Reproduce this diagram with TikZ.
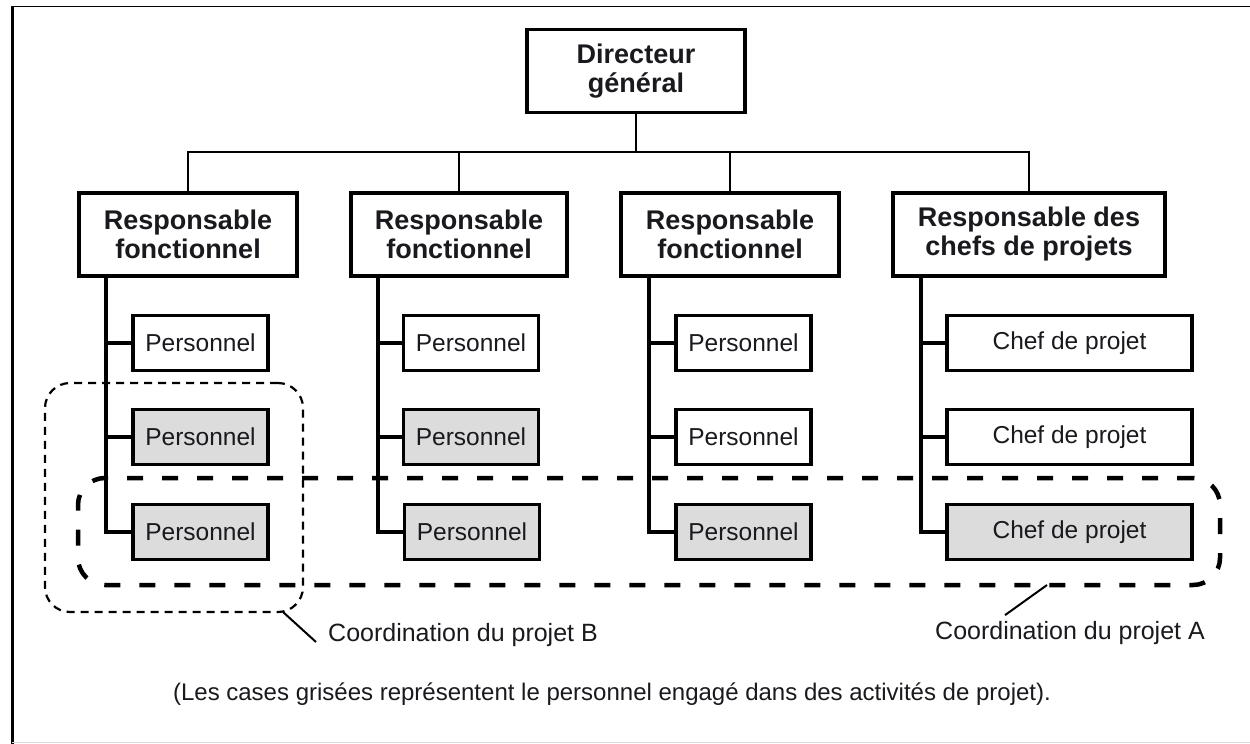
\documentclass[tikz,border=0pt]{standalone}
\usepackage{fontspec}
\setmainfont{Liberation Sans}
\definecolor{shade}{RGB}{220,220,220}
\definecolor{ink}{RGB}{25,25,30}
\begin{document}
\begin{tikzpicture}[x=1pt,y=-1pt,
  box/.style={draw=black, line width=3.5pt, fill=white, inner sep=0pt, align=center, text=ink},
  headbox/.style={box, minimum height=83pt, font=\fontsize{27}{29}\selectfont\bfseries},
  staff/.style={box, minimum width=135pt, minimum height=55pt, font=\fontsize{24.5}{28}\selectfont},
  chef/.style={staff, minimum width=245pt},
  shaded/.style={fill=shade},
  bus/.style={line width=2pt},
  trunk/.style={line width=3.5pt},
  zoneB/.style={draw, line width=2.2pt, dash pattern=on 8pt off 6pt, rounded corners=25pt, inner sep=0pt},
  zoneA/.style={draw, line width=4.5pt, dash pattern=on 16pt off 19pt, rounded corners=27pt, inner sep=0pt},
  note/.style={font=\fontsize{25}{28}\selectfont, text=ink, inner sep=0pt},
  leader/.style={line width=2pt}
]
\useasboundingbox (0,0) rectangle (1250,744);

% page frame
\draw[line width=3pt] (12,6) -- (12,744);
\draw[line width=1.5pt] (12,6.5) -- (1250,6.5);
\draw[line width=1pt, black!15] (12,742) -- (1250,742);

% top of the chart
\node[headbox, minimum width=218pt] (dg) at (636,71) {Directeur\\général};

% line managers
\node[headbox, minimum width=218pt] (r1) at (188,234.5) {Responsable\\fonctionnel};
\node[headbox, minimum width=216pt] (r2) at (459,234.5) {Responsable\\fonctionnel};
\node[headbox, minimum width=218pt] (r3) at (730,234.5) {Responsable\\fonctionnel};
\node[headbox, minimum width=272pt] (r4) at (1029,234.5) {Responsable des\\chefs de projets};

% bus from the director
\coordinate (busline) at (0,152);
\draw[bus] (dg.south) -- (dg.south |- busline);
\draw[bus] (r1.north) |- (r4.north |- busline) -- (r4.north);
\draw[bus] (r2.north) -- (r2.north |- busline);
\draw[bus] (r3.north) -- (r3.north |- busline);

% staff under each manager
\node[staff] (p11) at (200.5,343) {Personnel};
\node[staff, shaded] (p12) at (200.5,437) {Personnel};
\node[staff, shaded] (p13) at (200.5,532) {Personnel};

\node[staff] (p21) at (471,343) {Personnel};
\node[staff, shaded] (p22) at (471,437) {Personnel};
\node[staff, shaded] (p23) at (472,532) {Personnel};

\node[staff] (p31) at (743.5,343) {Personnel};
\node[staff] (p32) at (743.5,437) {Personnel};
\node[staff, shaded] (p33) at (743.5,532) {Personnel};

\node[chef] (c1) at (1069.5,343) {Chef de projet};
\node[chef] (c2) at (1069.5,437) {Chef de projet};
\node[chef, shaded] (c3) at (1069.5,532) {Chef de projet};

% trunks and branches
\coordinate (k1) at (106,276);
\coordinate (k2) at (378,276);
\coordinate (k3) at (649,276);
\coordinate (k4) at (921,276);

\draw[trunk] (k1) |- (p13.west);
\draw[trunk] (p11.west) -- (p11.west -| k1);
\draw[trunk] (p12.west) -- (p12.west -| k1);

\draw[trunk] (k2) |- (p23.west);
\draw[trunk] (p21.west) -- (p21.west -| k2);
\draw[trunk] (p22.west) -- (p22.west -| k2);

\draw[trunk] (k3) |- (p33.west);
\draw[trunk] (p31.west) -- (p31.west -| k3);
\draw[trunk] (p32.west) -- (p32.west -| k3);

\draw[trunk] (k4) |- (c3.west);
\draw[trunk] (c1.west) -- (c1.west -| k4);
\draw[trunk] (c2.west) -- (c2.west -| k4);

% project coordination zones
\node[zoneB, minimum width=258pt, minimum height=229pt] (zb) at (174,497.5) {};
\node[zoneA, minimum width=1142pt, minimum height=107pt] (za) at (649,531.5) {};

% zone labels (shifts are in page units: positive yshift goes up)
\node[note, anchor=west] (lb) at (328,635) {Coordination du projet B};
\node[note] (la) at (1070,633) {Coordination du projet A};
\coordinate (lb0) at (283,612);
\coordinate (la0) at (1047,585);
\draw[leader] (lb0) -- ([xshift=-12pt,yshift=-7pt]lb.west);
\draw[leader] (la0) -- ([xshift=70pt,yshift=6pt]la.north west);

% footnote
\node[note, font=\fontsize{24}{28}\selectfont] (fn) at (612,694)
  {(Les cases grisées représentent le personnel engagé dans des activités de projet).};
\end{tikzpicture}
\end{document}
